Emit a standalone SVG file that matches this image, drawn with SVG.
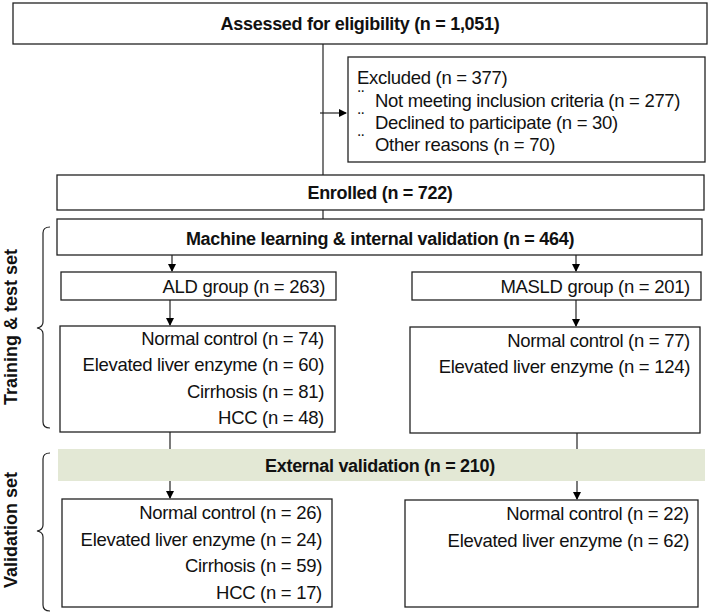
<svg xmlns="http://www.w3.org/2000/svg" width="708" height="615" viewBox="0 0 708 615">
<defs>
<marker id="ah" markerWidth="8" markerHeight="8" refX="7" refY="4" orient="auto" markerUnits="userSpaceOnUse"><path d="M0,0 L8,4 L0,8 z" fill="#000"/></marker>
<style>
.b{fill:#fff;stroke:#222;stroke-width:1.3}
.t{font-family:"Liberation Sans",Arial,sans-serif;font-size:18.5px;fill:#111;letter-spacing:-0.3px}
.h{font-family:"Liberation Sans",Arial,sans-serif;font-size:18px;font-weight:bold;fill:#111;text-anchor:middle;letter-spacing:-0.3px}
.r{text-anchor:end}
.c{fill:none;stroke:#222;stroke-width:1.2}
.s{font-family:"Liberation Sans",Arial,sans-serif;font-size:18px;font-weight:bold;fill:#111;text-anchor:middle}
</style>
</defs>
<g id="connectors">
<path class="c" d="M323,44 V219"/>
<path class="c" d="M320,113 H346" marker-end="url(#ah)"/>
<path class="c" d="M172,255 V271" marker-end="url(#ah)"/>
<path class="c" d="M576,255 V271" marker-end="url(#ah)"/>
<path class="c" d="M170,300 V325" marker-end="url(#ah)"/>
<path class="c" d="M576,300 V326" marker-end="url(#ah)"/>
<path class="c" d="M170,432 V449"/>
<path class="c" d="M577,433 V449"/>
<path class="c" d="M170,481 V498" marker-end="url(#ah)"/>
<path class="c" d="M577,481 V499" marker-end="url(#ah)"/>
</g>
<g id="assessed"><rect class="b" x="13" y="3" width="694" height="41"/><text class="h" x="360" y="30">Assessed for eligibility (n = 1,051)</text></g>
<g id="excluded"><rect class="b" x="348" y="57" width="357" height="105"/>
<text class="t" x="357" y="84">Excluded  (n = 377)</text>
<text class="t" x="358" y="103" font-size="11">¨</text><text class="t" x="375" y="107">Not meeting inclusion criteria (n = 277)</text>
<text class="t" x="358" y="125" font-size="11">¨</text><text class="t" x="375" y="129">Declined to participate (n = 30)</text>
<text class="t" x="358" y="147" font-size="11">¨</text><text class="t" x="375" y="151">Other reasons (n = 70)</text></g>
<g id="enrolled"><rect class="b" x="57" y="175" width="647" height="35"/><text class="h" x="380" y="199">Enrolled (n = 722)</text></g>
<g id="ml"><rect class="b" x="57" y="219" width="645" height="36"/><text class="h" x="380" y="245">Machine learning &amp; internal validation (n = 464)</text></g>
<g id="ald"><rect class="b" x="61" y="272" width="275" height="28"/><text class="t r" x="325" y="293">ALD group (n = 263)</text></g>
<g id="masld"><rect class="b" x="412" y="272" width="289" height="28"/><text class="t r" x="690" y="293">MASLD group (n = 201)</text></g>
<g id="ald-train"><rect class="b" x="60" y="326" width="275" height="106"/>
<text class="t r" x="324" y="345">Normal control (n = 74)</text>
<text class="t r" x="324" y="371">Elevated liver enzyme (n = 60)</text>
<text class="t r" x="324" y="398">Cirrhosis (n = 81)</text>
<text class="t r" x="324" y="424">HCC (n = 48)</text></g>
<g id="masld-train"><rect class="b" x="410" y="327" width="290" height="106"/>
<text class="t r" x="690" y="347">Normal control (n = 77)</text>
<text class="t r" x="690" y="373">Elevated liver enzyme (n = 124)</text></g>
<g id="external"><rect x="58" y="449" width="647" height="32" fill="#e3e8d5"/><text class="h" x="380" y="472">External validation (n = 210)</text></g>
<g id="ald-val"><rect class="b" x="62" y="499" width="270" height="108"/>
<text class="t r" x="322" y="519">Normal control (n = 26)</text>
<text class="t r" x="322" y="546">Elevated liver enzyme (n = 24)</text>
<text class="t r" x="322" y="572">Cirrhosis (n = 59)</text>
<text class="t r" x="322" y="599">HCC (n = 17)</text></g>
<g id="masld-val"><rect class="b" x="405" y="500" width="293" height="107"/>
<text class="t r" x="689" y="520">Normal control (n = 22)</text>
<text class="t r" x="689" y="547">Elevated liver enzyme  (n = 62)</text></g>
<g id="brackets">
<path class="c" d="M50,227 Q43,227 43,233 V322 Q43,327 37,328 Q43,329 43,334 V422 Q43,428 50,428"/>
<path class="c" d="M50,453 Q43,453 43,459 V525 Q43,530 37,531 Q43,532 43,537 V605 Q43,611 50,611"/>
<text class="s" transform="translate(17,327) rotate(-90)">Training &amp; test set</text>
<text class="s" transform="translate(17,530) rotate(-90)">Validation set</text>
</g>
</svg>
